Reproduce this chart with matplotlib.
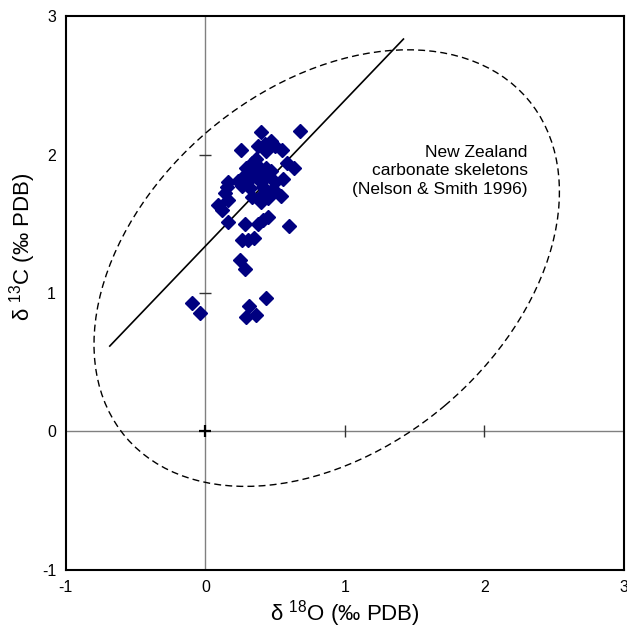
import matplotlib
matplotlib.use("Agg")
import matplotlib.pyplot as plt
from matplotlib.patches import Ellipse

plt.rcParams['font.family'] = ['Liberation Sans', 'DejaVu Sans']
plt.rcParams['axes.unicode_minus'] = False
plt.rcParams['mathtext.fontset'] = 'custom'
plt.rcParams['mathtext.rm'] = 'Liberation Sans'

# d18O, d13C of the samples
d18o = [0.398, 0.677, 0.254, 0.374, 0.434, 0.470, 0.498, 0.546, 0.427,
        0.582, 0.637, 0.558,
        0.331, 0.295, 0.379, 0.438, 0.474, 0.283, 0.343, 0.414,
        0.159, 0.235,
        0.152, 0.319, 0.414, 0.486, 0.140, 0.164, 0.331, 0.407, 0.398, 0.450, 0.541,
        0.092, 0.121, 0.159, 0.283, 0.379, 0.414, 0.446, 0.599,
        0.264, 0.307, 0.350,
        0.247, 0.283, -0.099, -0.039, 0.438, 0.312, 0.290, 0.360,
        0.36, 0.40, 0.30, 0.44, 0.36, 0.45, 0.26, 0.50]
d13c = [2.162, 2.168, 2.030, 2.059, 2.028, 2.095, 2.059, 2.030, 2.076,
        1.939, 1.903, 1.826,
        1.939, 1.903, 1.915, 1.903, 1.879, 1.854, 1.850, 1.835,
        1.801, 1.806,
        1.768, 1.760, 1.768, 1.751, 1.720, 1.671, 1.695, 1.708, 1.659, 1.684, 1.700,
        1.635, 1.599, 1.515, 1.496, 1.496, 1.527, 1.547, 1.484,
        1.383, 1.383, 1.395,
        1.238, 1.173, 0.925, 0.853, 0.962, 0.908, 0.829, 0.841,
        1.88, 1.80, 1.80, 1.73, 1.97, 1.85, 1.77, 1.80]

# regression line end points
line_x = [-0.685, 1.420]
line_y = [0.617, 2.834]

# Nelson & Smith 1996 field
ell_center = (0.87, 1.18)
ell_major = 1.888
ell_minor = 1.305
ell_angle = 40.4

ticks = [-1, 0, 1, 2, 3]

fig = plt.figure(figsize=(6.27, 6.28), dpi=100)
ax = fig.add_axes([0.105, 0.0924, 0.890, 0.882])

ax.axhline(0, color='#808080', lw=1, zorder=1)
ax.axvline(0, color='#808080', lw=1, zorder=1)
ax.plot([1, 2], [0, 0], ls='none', marker='|', ms=9, mew=1, color='#333333', zorder=2)
ax.plot([0, 0], [1, 2], ls='none', marker='_', ms=9, mew=1, color='#333333', zorder=2)
ax.plot([0], [0], ls='none', marker='+', ms=9, mew=1.6, color='black', zorder=2)

ax.add_patch(Ellipse(ell_center, 2 * ell_major, 2 * ell_minor, angle=ell_angle,
                     fill=False, ls=(0, (5, 3)), lw=1, color='black', zorder=3))
ax.plot(line_x, line_y, color='black', lw=1.2, zorder=4)
ax.plot(d18o, d13c, ls='none', marker='D', ms=7.5, color='#000080', mec='#000080', zorder=5)

ax.text(2.31, 2.07, "New Zealand\ncarbonate skeletons\n(Nelson & Smith 1996)",
        ha='right', va='top', fontsize=12.5, linespacing=1.3)

ax.set_xlim(-1, 3)
ax.set_ylim(-1, 3)
ax.set_xticks(ticks)
ax.set_yticks(ticks)
ax.tick_params(length=0, labelsize=11.5, pad=7)
for s in ax.spines.values():
    s.set_linewidth(1.5)

ax.set_xlabel(r"δ $\mathregular{^{18}}$O (‰ PDB)", fontsize=16)
ax.set_ylabel(r"δ $\mathregular{^{13}}$C (‰ PDB)", fontsize=16)
ax.xaxis.set_label_coords(0.5, -0.05)
ax.yaxis.set_label_coords(-0.05, 0.583)

fig.savefig("out.png", dpi=100)
